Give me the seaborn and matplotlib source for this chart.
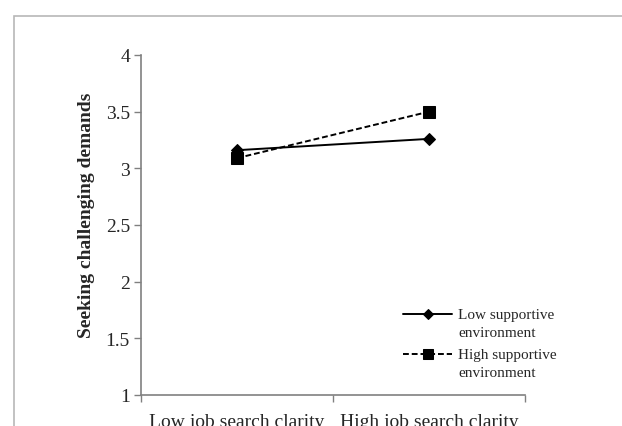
import numpy as np
import pandas as pd
import matplotlib
matplotlib.use("Agg")
import matplotlib.pyplot as plt
import seaborn as sns
from matplotlib.patches import Rectangle
from matplotlib.ticker import FixedLocator, NullFormatter

clarity = ["Low job search clarity", "High job search clarity"]
groups = ["Low supportive\nenvironment", "High supportive\nenvironment"]
low_support = [3.16, 3.26]
high_support = [3.09, 3.50]

df = pd.DataFrame({
    "pos": [0, 1, 0, 1],
    "value": low_support + high_support,
    "group": [groups[0]] * 2 + [groups[1]] * 2,
})

sns.set_style("white")
plt.rcParams["font.family"] = ["Liberation Serif", "DejaVu Serif"]

fig = plt.figure(figsize=(6.22, 4.27), dpi=100)
ax = fig.add_axes([141 / 622, 31 / 427, 384 / 622, 340 / 427])

# outer frame
fig.patches.append(Rectangle((14 / 622, -0.1), 1.2, (427 - 17) / 427 + 0.1,
                             transform=fig.transFigure, fill=False,
                             edgecolor="#b8b8b8", linewidth=1.2))

sns.lineplot(data=df, x="pos", y="value", hue="group", style="group",
             hue_order=groups, style_order=groups,
             palette=["black", "black"],
             markers={groups[0]: "D", groups[1]: "s"},
             dashes={groups[0]: "", groups[1]: (3, 1.5)},
             markersize=8, linewidth=1.4, markeredgecolor="black",
             ax=ax)
for ln in ax.get_lines():
    if ln.get_marker() == "D":
        ln.set_markersize(6.5)

ax.set_xlim(-0.5, 1.5)
ax.set_ylim(1, 4)
ax.set_yticks([1, 1.5, 2, 2.5, 3, 3.5, 4])
ax.set_yticklabels(["1", "1.5", "2", "2.5", "3", "3.5", "4"])
ax.xaxis.set_major_locator(FixedLocator([-0.5, 0.5, 1.5]))
ax.xaxis.set_major_formatter(NullFormatter())
ax.xaxis.set_minor_locator(FixedLocator([0, 1]))
ax.set_xticklabels(clarity, minor=True)
ax.tick_params(axis="x", which="minor", length=0, labelsize=14, pad=13)
ax.tick_params(axis="x", which="major", length=5, width=1, color="#808080", direction="out", bottom=True)
ax.tick_params(axis="y", length=5, width=1, color="#808080", direction="out", left=True, labelsize=14, pad=3)

for s in ["top", "right"]:
    ax.spines[s].set_visible(False)
for s in ["left", "bottom"]:
    ax.spines[s].set_color("#808080")
    ax.spines[s].set_linewidth(1.2)

ax.set_xlabel("")
ax.set_ylabel("Seeking challenging demands", fontsize=14, fontweight="bold", labelpad=8, y=0.53)

leg = ax.legend(loc="upper left", bbox_to_anchor=(0.683, 0.255), frameon=False,
                fontsize=11, handlelength=3.2, handletextpad=0.4,
                labelspacing=0.55, borderaxespad=0, borderpad=0)
for t in leg.get_texts():
    t.set_linespacing(1.5)
# handles sit on the first text line, as in the original
for h in leg.legend_handles:
    h.set_markersize(5.5 if h.get_marker() == "D" else 6.5)
    h.set_ydata(np.asarray(h.get_ydata()) + 6.5)

fig.savefig("out.png", dpi=100)
